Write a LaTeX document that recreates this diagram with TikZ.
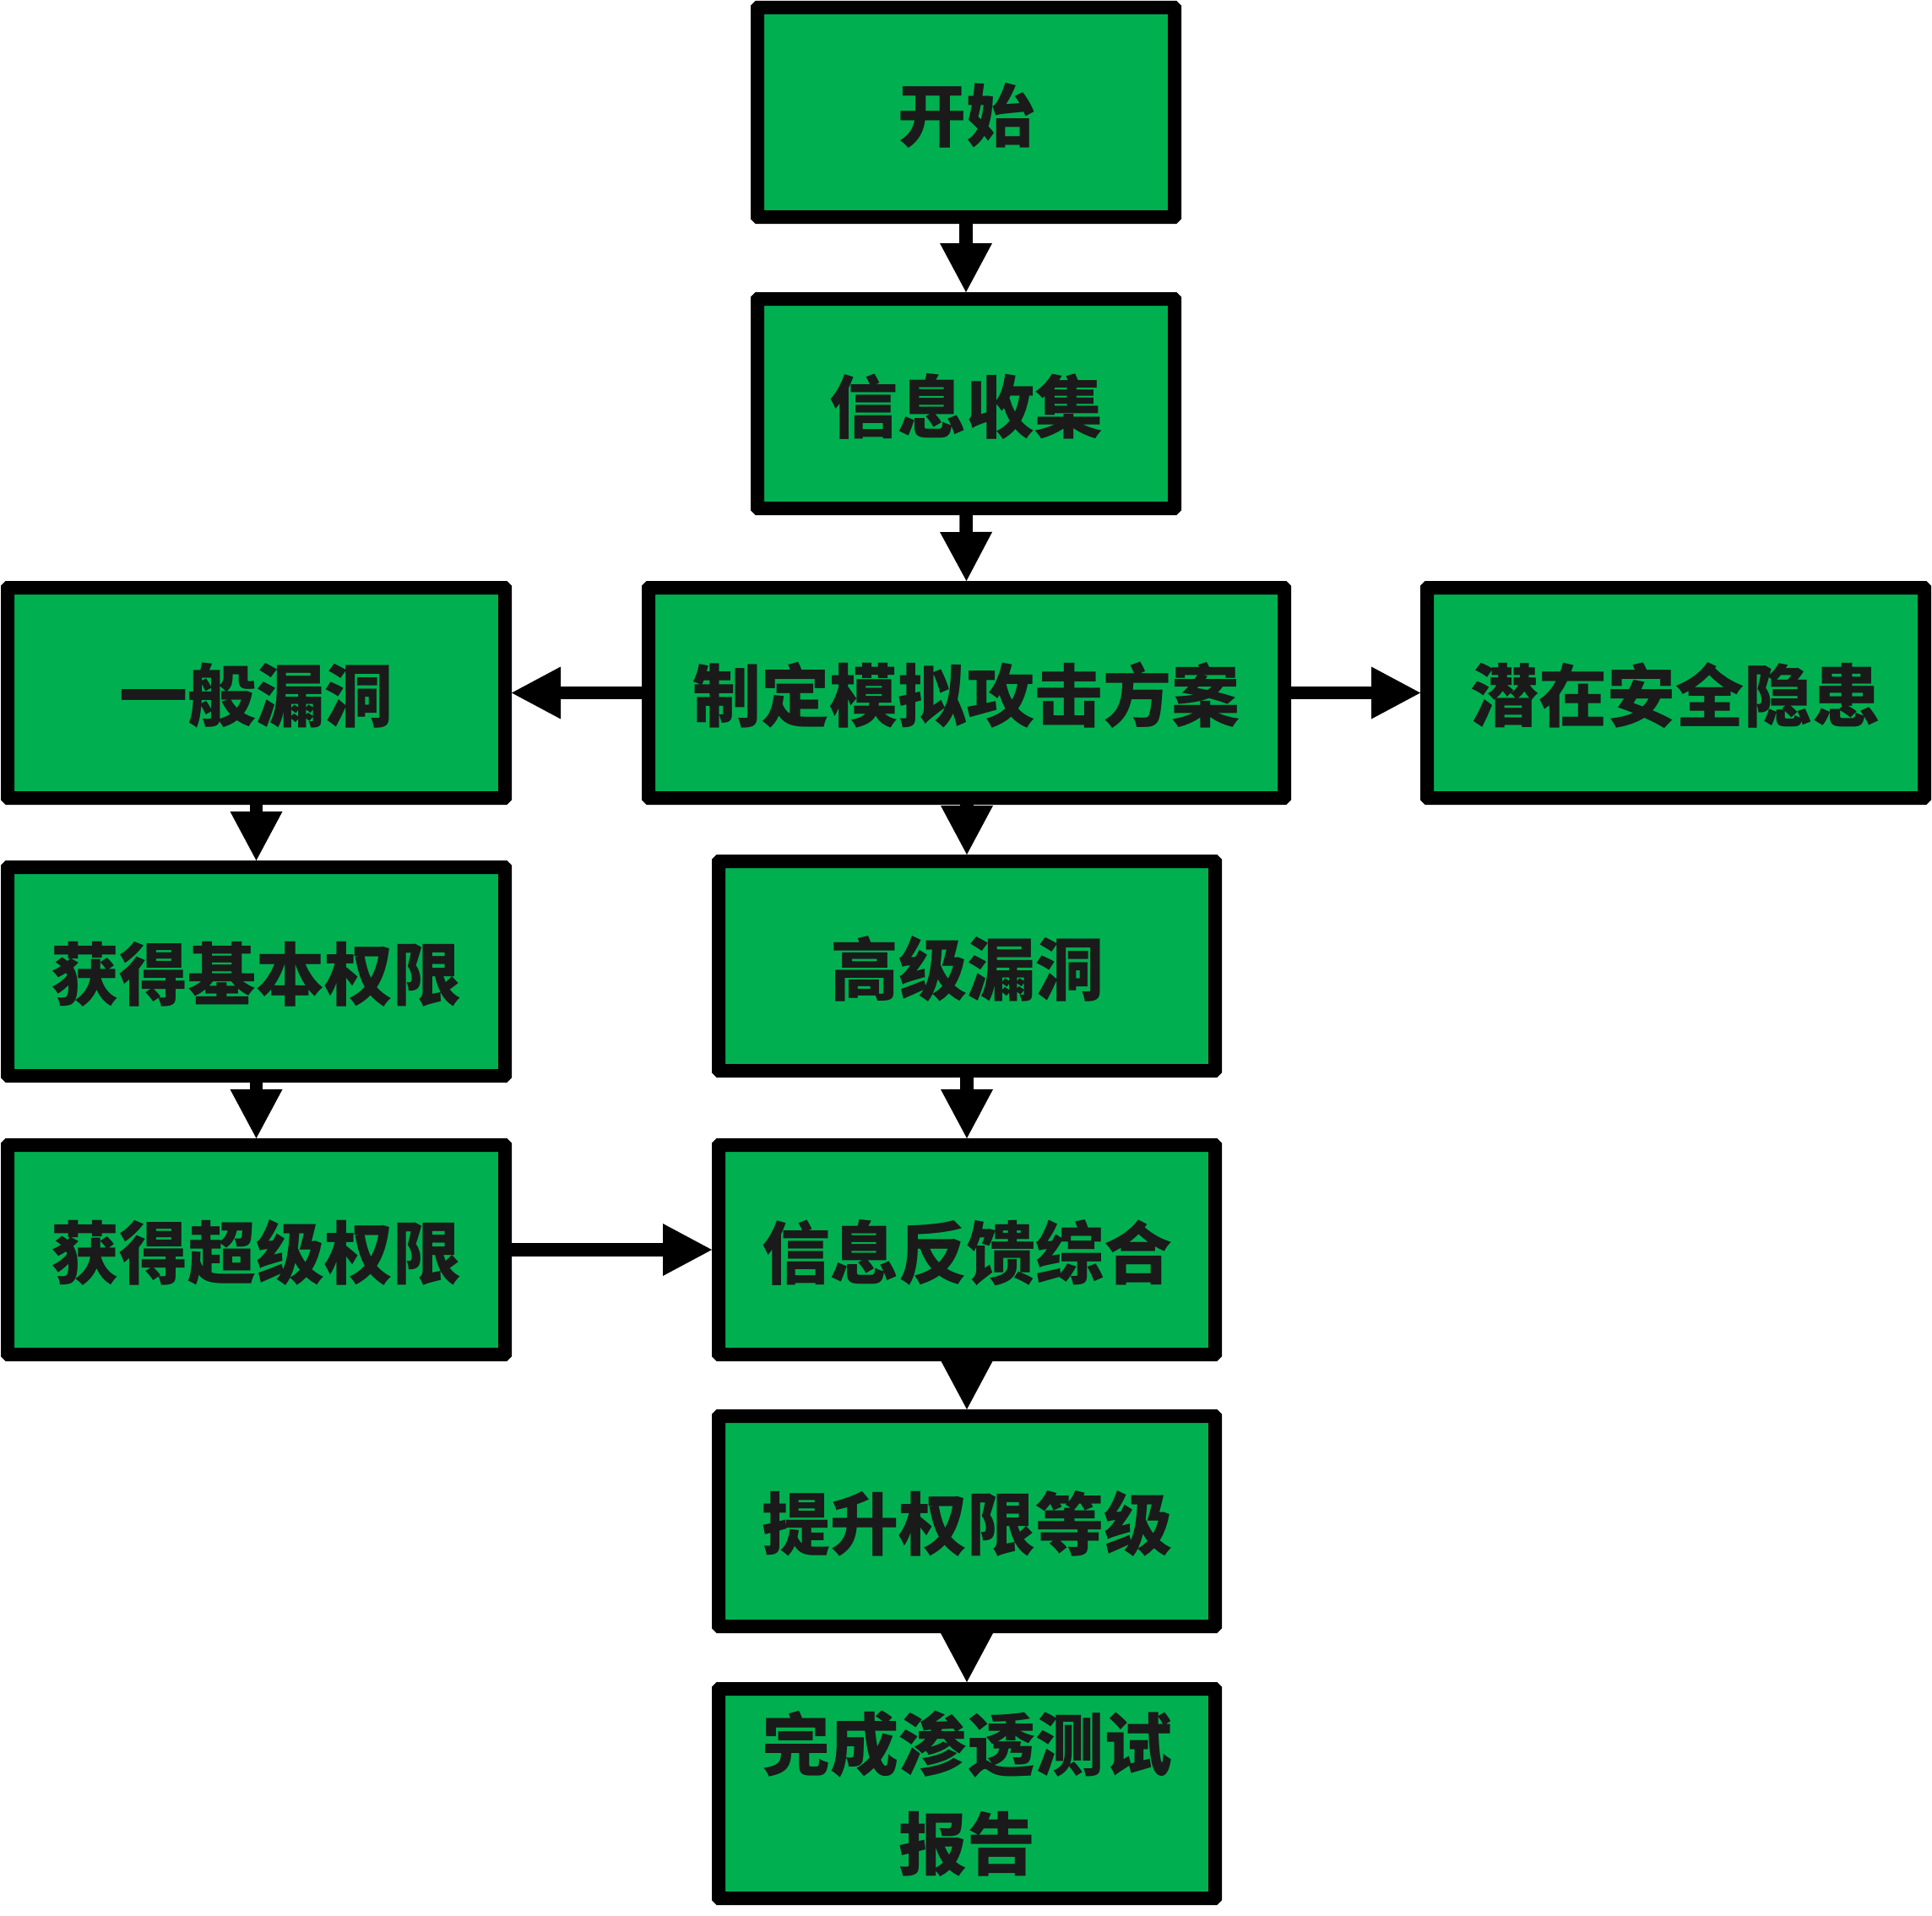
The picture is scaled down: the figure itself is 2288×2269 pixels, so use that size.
\documentclass[tikz,border=0pt]{standalone}
\usepackage{fontspec}
\newfontfamily\cjk{Noto Sans CJK SC}
\usetikzlibrary{arrows.meta}
\definecolor{boxgreen}{HTML}{00B050}
\definecolor{txt}{HTML}{1A1A1A}
\tikzset{
  box/.style={draw=black, fill=boxgreen, line width=16pt, rounded corners=1pt,
    inner sep=0pt, text=txt, align=center,
    font=\cjk\bfseries\fontsize{81pt}{117.5pt}\selectfont},
  single/.style={text height=78pt, text depth=9.7pt},
  conn/.style={line width=15.5pt, -{Triangle[length=58pt,width=62pt,line width=0pt]}}
}
\begin{document}
\begin{tikzpicture}[x=1pt,y=-1pt]
\useasboundingbox (0,0) rectangle (2288,2269);
\node[box, single, minimum width=494pt, minimum height=248pt] (start) at (1144,133) {开始};
\node[box, single, minimum width=494pt, minimum height=248pt] (info) at (1144,478) {信息收集};
\node[box, single, minimum width=753pt, minimum height=249pt] (plan) at (1144.5,820.5) {制定模拟攻击方案};
\node[box, single, minimum width=589pt, minimum height=249pt] (gen) at (303.5,820.5) {一般漏洞};
\node[box, single, minimum width=589pt, minimum height=249pt] (pot) at (1984.5,820.5) {潜在安全隐患};
\node[box, single, minimum width=589pt, minimum height=247pt] (basic) at (303.5,1150.5) {获得基本权限};
\node[box, single, minimum width=588pt, minimum height=248pt] (adv) at (1145,1144) {高级漏洞};
\node[box, single, minimum width=589pt, minimum height=248pt] (super) at (303.5,1480) {获得超级权限};
\node[box, single, minimum width=588pt, minimum height=248pt] (feed) at (1145,1480) {信息反馈综合};
\node[box, single, minimum width=588pt, minimum height=249pt] (raise) at (1145,1801.5) {提升权限等级};
\node[box, minimum width=588pt, minimum height=248pt] (done) at (1145,2124) {完成渗透测试\\报告};
\draw[conn] (start.south) -- (info.north);
\draw[conn] (info.south) -- (plan.north);
\draw[conn] (plan.west) -- (gen.east);
\draw[conn] (plan.east) -- (pot.west);
\draw[conn] (gen.south) -- (basic.north);
\draw[conn] (plan.south -| adv.north) -- (adv.north);
\draw[conn] (basic.south) -- (super.north);
\draw[conn] (adv.south) -- (feed.north);
\draw[conn] (super.east) -- (feed.west);
\draw[conn] (feed.south) -- (raise.north);
\draw[conn] (raise.south) -- (done.north);
\end{tikzpicture}
\end{document}
